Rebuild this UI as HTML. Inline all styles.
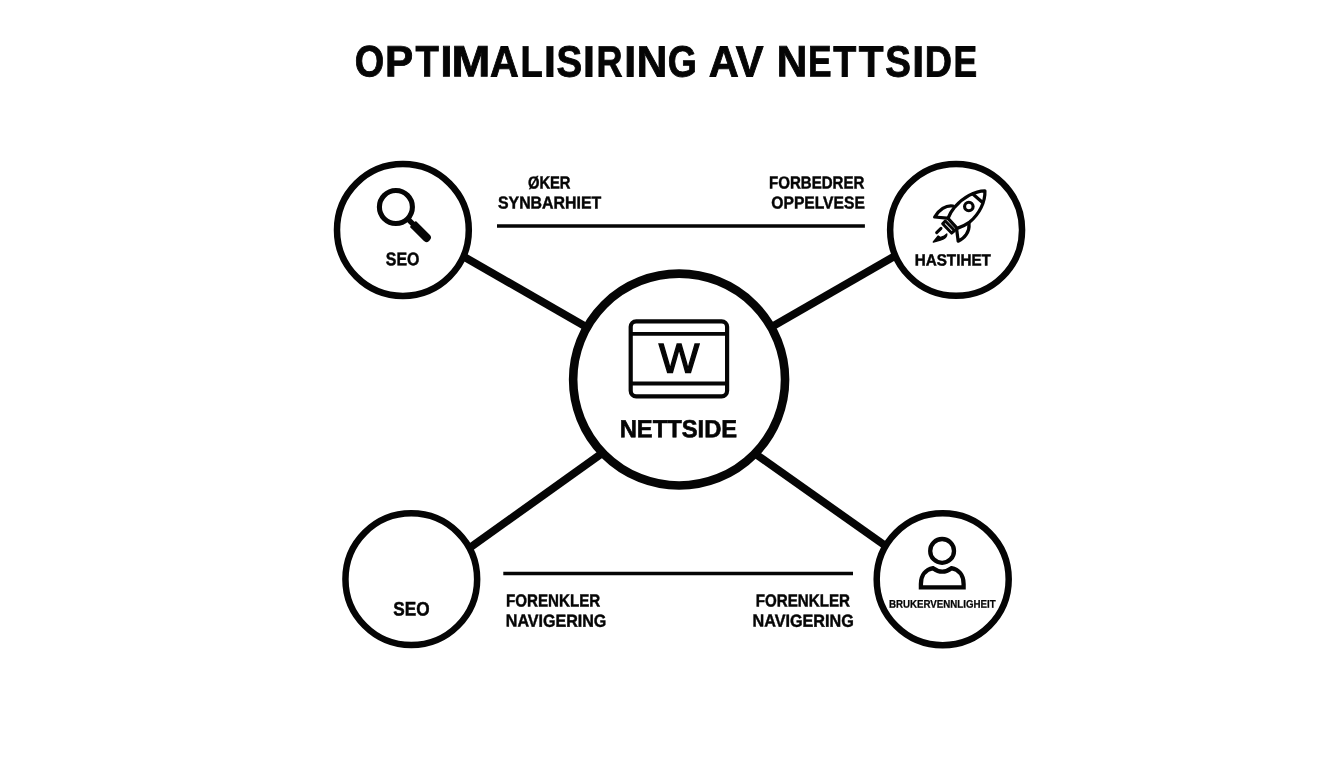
<!DOCTYPE html>
<html lang="no">
<head>
<meta charset="utf-8">
<title>Optimalisiring av nettside</title>
<style>
  html, body { margin: 0; padding: 0; background: #ffffff; }
  body { width: 1344px; height: 768px; overflow: hidden; font-family: "Liberation Sans", sans-serif; }
  svg { display: block; will-change: transform; transform: translateZ(0); }
  text { font-family: "Liberation Sans", sans-serif; font-weight: bold; fill: #050505; text-rendering: geometricPrecision; }
</style>
</head>
<body>
<svg width="1344" height="768" viewBox="0 0 1344 768">
  <rect x="0" y="0" width="1344" height="768" fill="#ffffff"/>

  <!-- Connector lines -->
  <g stroke="#050505" stroke-width="7.8" stroke-linecap="butt" fill="none">
    <line x1="452" y1="249.9" x2="600" y2="334.8"/>
    <line x1="906" y1="249.6" x2="758" y2="334.7"/>
    <line x1="455" y1="558.4" x2="615" y2="444"/>
    <line x1="899" y1="555.4" x2="742" y2="444.4"/>
  </g>

  <!-- Horizontal rules -->
  <g stroke="#050505" stroke-width="3.5" fill="none">
    <line x1="497" y1="225.9" x2="864.9" y2="225.9"/>
    <line x1="503.3" y1="573.4" x2="853" y2="573.4"/>
  </g>

  <!-- Circles -->
  <g stroke="#050505" fill="#ffffff">
    <circle cx="679.1" cy="379.6" r="105.95" stroke-width="8.6"/>
    <circle cx="402.9" cy="230" r="65.9" stroke-width="6.5"/>
    <circle cx="956.1" cy="229.9" r="65.95" stroke-width="6.5"/>
    <circle cx="411.3" cy="579.15" r="65.85" stroke-width="6.5"/>
    <circle cx="942.7" cy="579.25" r="66" stroke-width="6.5"/>
  </g>

  <!-- Text -->
  <text x="354.70" y="76.45" font-size="43.75" stroke="#050505" stroke-width="0.90" transform="rotate(0.06 525.8 76.5)"><tspan x="354.70" textLength="29.42" lengthAdjust="spacingAndGlyphs">O</tspan><tspan x="385.00" textLength="28.13" lengthAdjust="spacingAndGlyphs">P</tspan><tspan x="415.50" textLength="23.29" lengthAdjust="spacingAndGlyphs">T</tspan><tspan x="440.50" textLength="11.85" lengthAdjust="spacingAndGlyphs">I</tspan><tspan x="451.45" textLength="38.85" lengthAdjust="spacingAndGlyphs">M</tspan><tspan x="490.10" textLength="28.73" lengthAdjust="spacingAndGlyphs">A</tspan><tspan x="520.60" textLength="22.26" lengthAdjust="spacingAndGlyphs">L</tspan><tspan x="544.00" textLength="11.85" lengthAdjust="spacingAndGlyphs">I</tspan><tspan x="556.55" textLength="25.66" lengthAdjust="spacingAndGlyphs">S</tspan><tspan x="583.10" textLength="11.90" lengthAdjust="spacingAndGlyphs">I</tspan><tspan x="596.50" textLength="25.99" lengthAdjust="spacingAndGlyphs">R</tspan><tspan x="624.30" textLength="11.85" lengthAdjust="spacingAndGlyphs">I</tspan><tspan x="636.70" textLength="30.49" lengthAdjust="spacingAndGlyphs">N</tspan><tspan x="667.65" textLength="29.16" lengthAdjust="spacingAndGlyphs">G</tspan></text>
  <text x="708.80" y="76.45" font-size="43.75" textLength="54.65" lengthAdjust="spacingAndGlyphs" stroke="#050505" stroke-width="0.90" transform="rotate(0.06 736.1 76.5)">AV</text>
  <text x="776.80" y="76.45" font-size="43.75" stroke="#050505" stroke-width="0.90" transform="rotate(0.06 877.0 76.5)"><tspan x="776.80" textLength="30.50" lengthAdjust="spacingAndGlyphs">N</tspan><tspan x="808.10" textLength="23.54" lengthAdjust="spacingAndGlyphs">E</tspan><tspan x="833.20" textLength="23.00" lengthAdjust="spacingAndGlyphs">T</tspan><tspan x="858.75" textLength="24.75" lengthAdjust="spacingAndGlyphs">T</tspan><tspan x="885.25" textLength="25.64" lengthAdjust="spacingAndGlyphs">S</tspan><tspan x="912.20" textLength="11.85" lengthAdjust="spacingAndGlyphs">I</tspan><tspan x="924.65" textLength="27.24" lengthAdjust="spacingAndGlyphs">D</tspan><tspan x="953.50" textLength="23.65" lengthAdjust="spacingAndGlyphs">E</tspan></text>
  <text x="527.95" y="188.47" font-size="17.37" textLength="42.55" lengthAdjust="spacingAndGlyphs" stroke="#050505" stroke-width="0.45" transform="rotate(0.06 549.2 188.5)">ØKER</text>
  <text x="497.95" y="208.53" font-size="17.30" textLength="103.25" lengthAdjust="spacingAndGlyphs" stroke="#050505" stroke-width="0.45" transform="rotate(0.06 549.6 208.5)">SYNBARHIET</text>
  <text x="769.05" y="188.47" font-size="17.37" textLength="95.26" lengthAdjust="spacingAndGlyphs" stroke="#050505" stroke-width="0.45" transform="rotate(0.06 816.7 188.5)">FORBEDRER</text>
  <text x="771.30" y="208.53" font-size="17.30" textLength="93.51" lengthAdjust="spacingAndGlyphs" stroke="#050505" stroke-width="0.45" transform="rotate(0.06 818.1 208.5)">OPPELVESE</text>
  <text x="506.05" y="606.57" font-size="17.51" textLength="94.16" lengthAdjust="spacingAndGlyphs" stroke="#050505" stroke-width="0.45" transform="rotate(0.06 553.1 606.6)">FORENKLER</text>
  <text x="505.80" y="626.67" font-size="17.51" textLength="100.57" lengthAdjust="spacingAndGlyphs" stroke="#050505" stroke-width="0.45" transform="rotate(0.06 556.1 626.7)">NAVIGERING</text>
  <text x="755.75" y="606.57" font-size="17.51" textLength="94.16" lengthAdjust="spacingAndGlyphs" stroke="#050505" stroke-width="0.45" transform="rotate(0.06 802.8 606.6)">FORENKLER</text>
  <text x="752.50" y="626.67" font-size="17.51" textLength="101.28" lengthAdjust="spacingAndGlyphs" stroke="#050505" stroke-width="0.45" transform="rotate(0.06 803.1 626.7)">NAVIGERING</text>
  <text x="385.75" y="265.27" font-size="18.39" textLength="33.67" lengthAdjust="spacingAndGlyphs" stroke="#050505" stroke-width="0.45" transform="rotate(0.06 402.6 265.3)">SEO</text>
  <text x="914.70" y="265.47" font-size="16.21" textLength="76.21" lengthAdjust="spacingAndGlyphs" stroke="#050505" stroke-width="0.45" transform="rotate(0.06 952.8 265.5)">HASTIHET</text>
  <text x="393.30" y="615.45" font-size="19.48" textLength="36.27" lengthAdjust="spacingAndGlyphs" stroke="#050505" stroke-width="0.50" transform="rotate(0.06 411.4 615.5)">SEO</text>
  <text x="888.90" y="607.77" font-size="11.12" textLength="106.80" lengthAdjust="spacingAndGlyphs" stroke="#050505" stroke-width="0.25" transform="rotate(0.06 942.3 607.8)">BRUKERVENNLIGHEIT</text>
  <text x="619.70" y="437.30" font-size="24.64" textLength="117.48" lengthAdjust="spacingAndGlyphs" stroke="#050505" stroke-width="0.60" transform="rotate(0.06 678.4 437.3)">NETTSIDE</text>
  <text x="658.75" y="372.65" font-size="41.57" textLength="40.61" lengthAdjust="spacingAndGlyphs" style="font-weight:normal" stroke="#050505" stroke-width="1.30" transform="rotate(0.06 679.1 372.7)">W</text>
  <!-- Center icon: browser window -->
  <g stroke="#050505" fill="none">
    <rect x="630.7" y="321.3" width="96.4" height="75" rx="5.5" ry="5.5" stroke-width="4.2"/>
    <line x1="630.7" y1="333.9" x2="727.1" y2="333.9" stroke-width="3.8"/>
    <line x1="630.7" y1="383.5" x2="727.1" y2="383.5" stroke-width="4"/>
  </g>

  <!-- Magnifier icon -->
  <g stroke="#050505" fill="none">
    <circle cx="395.9" cy="207.05" r="16.5" stroke-width="5.1"/>
    <line x1="407" y1="218.15" x2="414" y2="225.15" stroke-width="5.3"/>
  </g>
  <g transform="translate(412.7,223.85) rotate(45)">
    <path d="M0 -3.25 Q0 -4.25 1 -4.25 L19.8 -4.25 Q23.6 -4.25 23.6 -0.5 L23.6 0.5 Q23.6 4.25 19.8 4.25 L1 4.25 Q0 4.25 0 3.25 Z" fill="#050505"/>
  </g>

  <!-- Rocket icon (drawn in 768-unit space = 64px) -->
  <g transform="translate(928,185) scale(0.083333)" stroke="#050505" stroke-width="39" fill="none" stroke-linejoin="round" stroke-linecap="round">
    <!-- body -->
    <path d="M683 70 C 560 72, 420 150, 320 265 C 280 315, 255 360, 240 400 L 350 520 C 400 505, 450 480, 500 445 C 620 345, 688 200, 683 70 Z" fill="#ffffff"/>
    <!-- nose divider -->
    <line x1="538" y1="108" x2="648" y2="203"/>
    <!-- window -->
    <circle cx="490" cy="258" r="51" stroke-width="38"/>
    <!-- upper-left fin -->
    <path d="M300 252 C 215 238, 130 300, 80 384 L 228 397"/>
    <!-- lower-right fin -->
    <path d="M492 468 C 502 560, 440 642, 362 674 L 343 525"/>
    <!-- nozzle -->
    <path d="M207 432 L 318 547 L 283 577 L 176 466 Z" stroke-width="36"/>
    <!-- flame dash -->
    <line x1="104" y1="572" x2="156" y2="520" stroke-width="36"/>
    <!-- flame body -->
    <path d="M64 684 L 122 612 L 150 630 Q 200 618 226 588 Q 230 640 150 660 Z" fill="#050505" stroke-width="16"/>
  </g>

  <!-- User icon -->
  <g stroke="#050505" fill="none" stroke-width="4.3">
    <circle cx="942.1" cy="550.9" r="11.9"/>
    <path d="M920.9 587.3 L 920.9 584 C 920.9 575, 926 569.5, 933.1 568.2 Q 942.3 575, 951.4 568.2 C 958.5 569.5, 963.6 575, 963.6 584 L 963.6 587.3 Z" stroke-linejoin="miter"/>
  </g>
</svg>
</body>
</html>
